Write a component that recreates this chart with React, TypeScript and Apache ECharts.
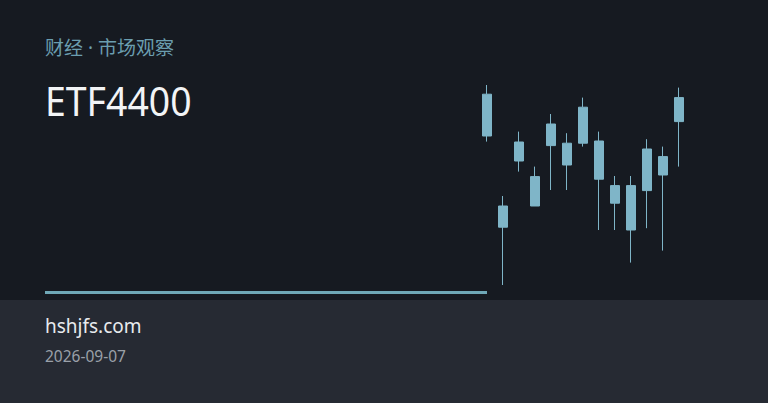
import React, { useEffect, useRef } from 'react'
import * as echarts from 'echarts'

// candle data: [open, close, low, high]
const days = ['1', '2', '3', '4', '5', '6', '7', '8', '9', '10', '11', '12', '13']
const opens = [74.5, 28.9, 62, 39.5, 69.7, 70.9, 70.9, 72, 49.7, 49.7, 47.2, 55, 81.7]
const closes = [95.4, 39.5, 71.5, 54.2, 80.5, 60, 88.9, 52.9, 40.9, 27.5, 68, 64.2, 93.7]
const lows = [71.7, 0, 56.7, 39.5, 47.5, 47.5, 69.2, 27.5, 27.5, 11.2, 28.4, 17.2, 59.2]
const highs = [100, 44.5, 76.7, 59.2, 85.5, 75.9, 93.7, 76.7, 54.5, 54.5, 72.9, 69.2, 98.7]

const kicker = '财经 · 市场观察'
const title = 'ETF4400'
const site = 'hshjfs.com'
const dateText = '2026-09-07'

const CANDLE = '#7fb5c8'

function App() {
  const chartRef = useRef(null)

  useEffect(() => {
    const chart = echarts.init(chartRef.current, null, { renderer: 'svg' })

    const candles = days.map((_, i) => [opens[i], closes[i], lows[i], highs[i]])

    chart.setOption({
      animation: false,
      backgroundColor: '#161a21',
      grid: { left: 479, top: 85, width: 208, height: 200 },
      xAxis: {
        type: 'category',
        data: days,
        show: false,
      },
      yAxis: {
        type: 'value',
        min: 0,
        max: 100,
        show: false,
      },
      graphic: [
        // footer band
        { type: 'rect', shape: { x: 0, y: 300, width: 768, height: 103 }, style: { fill: '#262a33' }, z: -1 },
        // accent line
        { type: 'rect', shape: { x: 45, y: 291, width: 442, height: 3 }, style: { fill: '#6fa8b7' } },
        {
          type: 'text', x: 45, y: 48,
          style: { text: kicker, fill: '#6b9eb0', font: '19px "Noto Sans", "Noto Sans CJK SC", sans-serif', verticalAlign: 'middle' },
        },
        {
          type: 'text', x: 45, y: 101, scaleX: 0.935,
          style: { text: title, fill: '#f2f4f6', font: '40px "Noto Sans", sans-serif', verticalAlign: 'middle' },
        },
        {
          type: 'text', x: 45, y: 326,
          style: { text: site, fill: '#e8eaee', font: '19px "Noto Sans", sans-serif', verticalAlign: 'middle' },
        },
        {
          type: 'text', x: 45, y: 356,
          style: { text: dateText, fill: '#9aa0a9', font: '15.5px "Noto Sans", sans-serif', verticalAlign: 'middle' },
        },
      ],
      series: [
        {
          type: 'candlestick',
          data: candles,
          barWidth: '62%',
          itemStyle: {
            color: CANDLE,
            color0: CANDLE,
            borderColor: CANDLE,
            borderColor0: CANDLE,
            borderWidth: 1,
          },
        },
      ],
    })

    return () => {
      chart.dispose()
    }
  }, [])

  return (
    <div
      ref={chartRef}
      style={{ position: 'absolute', left: 0, top: 0, width: '768px', height: '403px' }}
    ></div>
  )
}

export default App
